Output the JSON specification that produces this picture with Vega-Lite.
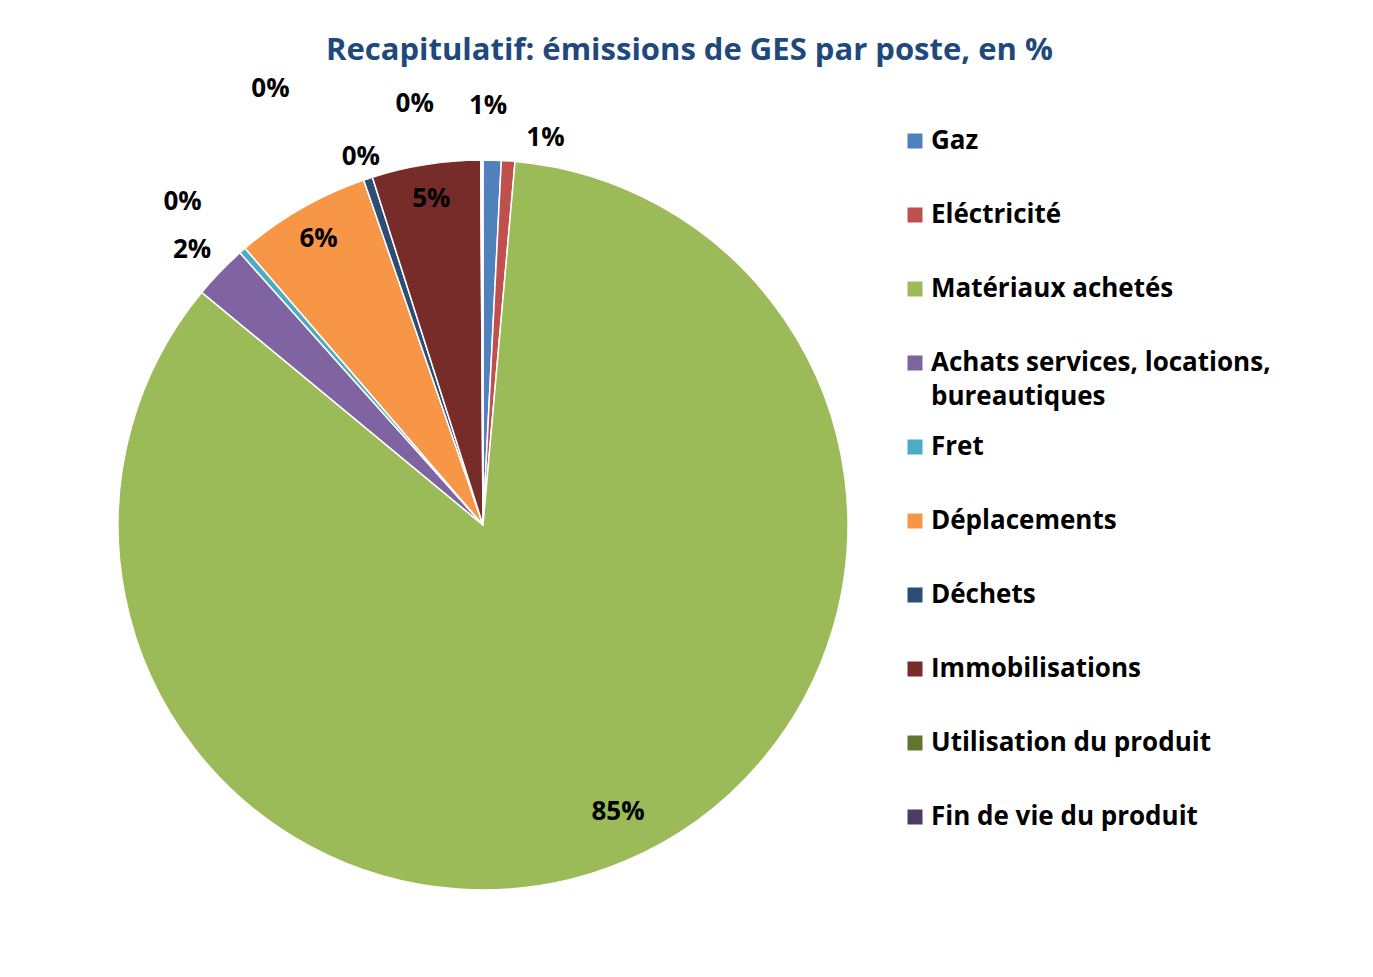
{
  "$schema": "https://vega.github.io/schema/vega-lite/v6.json",
  "width": 730,
  "height": 842,
  "autosize": {"type": "none"},
  "padding": {"left": 118, "top": 104, "right": 525, "bottom": 31},
  "background": "white",
  "config": {"view": {"stroke": null}, "font": "Open Sans", "style": {"guide-label": {"lineHeight": 34}}},
  "title": {
    "text": "Recapitulatif: émissions de GES par poste, en %",
    "font": "Open Sans",
    "fontSize": 31,
    "fontWeight": "bold",
    "color": "#1F497D",
    "anchor": "middle",
    "frame": "bounds",
    "offset": -5,
    "dx": 43
  },
  "data": {
    "values": [
      {"rang": 1, "poste": "Gaz", "part": 0.008},
      {"rang": 2, "poste": "Eléctricité", "part": 0.006},
      {"rang": 3, "poste": "Matériaux achetés", "part": 0.846},
      {"rang": 4, "poste": "Achats services, locations, bureautiques", "part": 0.024},
      {"rang": 5, "poste": "Fret", "part": 0.003},
      {"rang": 6, "poste": "Déplacements", "part": 0.06},
      {"rang": 7, "poste": "Déchets", "part": 0.004},
      {"rang": 8, "poste": "Immobilisations", "part": 0.048},
      {"rang": 9, "poste": "Utilisation du produit", "part": 0.0005},
      {"rang": 10, "poste": "Fin de vie du produit", "part": 0.0005}
    ]
  },
  "encoding": {
    "theta": {"field": "part", "type": "quantitative", "stack": true},
    "order": {"field": "rang", "type": "quantitative", "sort": "ascending"}
  },
  "layer": [
    {
      "mark": {"type": "arc", "stroke": "white", "strokeWidth": 1.5},
      "encoding": {
        "color": {
          "field": "poste",
          "type": "nominal",
          "sort": ["Gaz", "Eléctricité", "Matériaux achetés", "Achats services, locations, bureautiques", "Fret", "Déplacements", "Déchets", "Immobilisations", "Utilisation du produit", "Fin de vie du produit"],
          "scale": {
            "domain": ["Gaz", "Eléctricité", "Matériaux achetés", "Achats services, locations, bureautiques", "Fret", "Déplacements", "Déchets", "Immobilisations", "Utilisation du produit", "Fin de vie du produit"],
            "range": ["#4F81BD", "#C0504D", "#9BBB59", "#8064A2", "#4BACC6", "#F79646", "#2C4D75", "#772C2A", "#5F7530", "#4D3B62"]
          },
          "legend": {
            "title": null,
            "orient": "right",
            "offset": 54,
            "padding": 0,
            "rowPadding": 0,
            "clipHeight": 74,
            "symbolType": "square",
            "symbolSize": 225,
            "symbolStrokeWidth": 0,
            "labelFont": "Open Sans",
            "labelFontSize": 26,
            "labelFontWeight": "bold",
            "labelColor": "black",
            "labelLimit": 600,
            "labelOffset": 3,
            "labelExpr": "datum.label === 'Achats services, locations, bureautiques' ? ['Achats services, locations,', 'bureautiques'] : datum.label"
          }
        }
      }
    },
    {
      "mark": {"type": "text", "radius": 317, "thetaOffset": -0.044, "font": "Open Sans", "fontSize": 26, "fontWeight": "bold", "fill": "black"},
      "encoding": {
        "text": {"condition": {"test": "datum.poste === 'Matériaux achetés'", "field": "part", "type": "quantitative", "format": ".0%"}, "value": ""}
      }
    },
    {
      "mark": {"type": "text", "radius": 330, "font": "Open Sans", "fontSize": 26, "fontWeight": "bold", "fill": "black"},
      "encoding": {
        "text": {"condition": {"test": "datum.poste === 'Déplacements' || datum.poste === 'Immobilisations'", "field": "part", "type": "quantitative", "format": ".0%"}, "value": ""}
      }
    },
    {
      "mark": {"type": "text", "radius": 400, "thetaOffset": -0.01, "font": "Open Sans", "fontSize": 26, "fontWeight": "bold", "fill": "black"},
      "encoding": {
        "text": {"condition": {"test": "datum.poste === 'Achats services, locations, bureautiques'", "field": "part", "type": "quantitative", "format": ".0%"}, "value": ""}
      }
    },
    {
      "mark": {"type": "text", "radius": 388, "font": "Open Sans", "fontSize": 26, "fontWeight": "bold", "fill": "black"},
      "encoding": {
        "text": {"condition": {"test": "datum.poste === 'Déchets'", "field": "part", "type": "quantitative", "format": ".0%"}, "value": ""}
      }
    },
    {
      "mark": {"type": "text", "radius": 441, "thetaOffset": -0.03, "font": "Open Sans", "fontSize": 26, "fontWeight": "bold", "fill": "black"},
      "encoding": {
        "text": {"condition": {"test": "datum.poste === 'Fret'", "field": "part", "type": "quantitative", "format": ".0%"}, "value": ""}
      }
    },
    {
      "mark": {"type": "text", "radius": 419, "thetaOffset": -0.013, "font": "Open Sans", "fontSize": 26, "fontWeight": "bold", "fill": "black"},
      "encoding": {
        "text": {"condition": {"test": "datum.poste === 'Gaz'", "field": "part", "type": "quantitative", "format": ".0%"}, "value": ""}
      }
    },
    {
      "mark": {"type": "text", "radius": 392, "thetaOffset": 0.091, "font": "Open Sans", "fontSize": 26, "fontWeight": "bold", "fill": "black"},
      "encoding": {
        "text": {"condition": {"test": "datum.poste === 'Eléctricité'", "field": "part", "type": "quantitative", "format": ".0%"}, "value": ""}
      }
    },
    {
      "mark": {"type": "text", "radius": 427, "thetaOffset": -0.156, "font": "Open Sans", "fontSize": 26, "fontWeight": "bold", "fill": "black"},
      "encoding": {
        "text": {"condition": {"test": "datum.poste === 'Utilisation du produit'", "field": "part", "type": "quantitative", "format": ".0%"}, "value": ""}
      }
    },
    {
      "mark": {"type": "text", "radius": 485, "thetaOffset": -0.452, "font": "Open Sans", "fontSize": 26, "fontWeight": "bold", "fill": "black"},
      "encoding": {
        "text": {"condition": {"test": "datum.poste === 'Fin de vie du produit'", "field": "part", "type": "quantitative", "format": ".0%"}, "value": ""}
      }
    }
  ]
}
